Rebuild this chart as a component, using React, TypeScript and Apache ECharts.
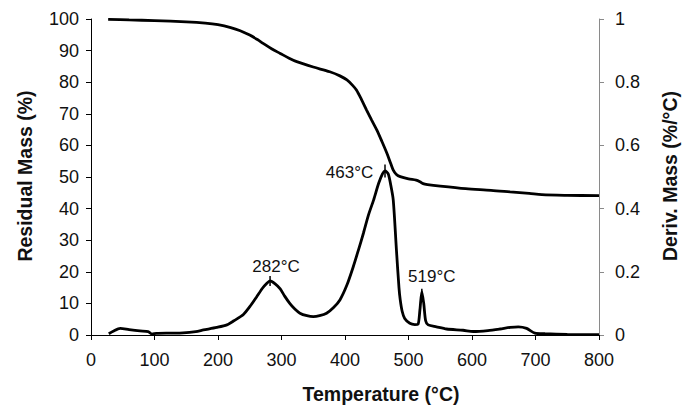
import React, { useEffect, useRef } from "react";
import * as echarts from "echarts";

const tempTGA = [27, 60, 100, 150, 180, 200, 220, 235, 250, 262, 271, 285, 298, 312, 324, 350, 376, 392, 403, 412, 418, 426, 434, 442, 450, 458, 466, 472, 476, 481, 487, 500, 512, 518, 523, 530, 550, 590, 630, 660, 690, 710, 750, 800];
const massTGA = [99.9, 99.7, 99.5, 99.1, 98.7, 98.2, 97.3, 96.3, 94.9, 93.5, 92.3, 90.5, 89.1, 87.6, 86.5, 84.8, 83.3, 82.0, 80.7, 79.0, 77.5, 74.5, 71.2, 68.0, 64.9, 61.3, 57.5, 54.3, 52.2, 50.8, 50.1, 49.4, 49.0, 48.5, 47.9, 47.6, 47.1, 46.3, 45.8, 45.3, 44.8, 44.4, 44.2, 44.1];

const tempDTG = [28, 35, 46, 60, 77, 90, 96, 103, 125, 145, 165, 177, 198, 214, 225, 240, 252, 261, 270, 277, 282, 290, 298, 305, 313, 321, 329, 340, 350, 360, 371, 382, 392, 403, 413, 421, 429, 437, 445, 453, 459, 463, 468, 472, 476, 481, 485, 487, 490, 494, 502, 510, 515, 518, 521, 524, 527, 531, 544, 560, 586, 602, 625, 644, 660, 673, 686, 699, 715, 750, 800];
const derivDTG = [0.004, 0.012, 0.021, 0.017, 0.013, 0.011, 0.003, 0.005, 0.006, 0.007, 0.011, 0.016, 0.024, 0.032, 0.045, 0.065, 0.095, 0.121, 0.148, 0.164, 0.171, 0.162, 0.146, 0.123, 0.1, 0.082, 0.069, 0.061, 0.058, 0.061, 0.069, 0.087, 0.111, 0.158, 0.216, 0.268, 0.322, 0.38, 0.427, 0.48, 0.51, 0.519, 0.51, 0.475, 0.427, 0.269, 0.15, 0.111, 0.075, 0.052, 0.037, 0.033, 0.034, 0.08, 0.137, 0.1, 0.045, 0.032, 0.026, 0.019, 0.015, 0.011, 0.014, 0.019, 0.024, 0.026, 0.021, 0.006, 0.004, 0.002, 0.001];

const peakTemps = [282, 463, 521];
const peakDerivs = [0.171, 0.519, 0.137];
const peakLabels = ["282°C", "463°C", "519°C"];

const xTitle = "Temperature (°C)";
const yLeftTitle = "Residual Mass (%)";
const yRightTitle = "Deriv. Mass (%/°C)";

const FONT = "'Liberation Sans', Arial, Helvetica, sans-serif";

export default function App() {
  const ref = useRef<HTMLDivElement>(null);
  useEffect(() => {
    document.body.style.margin = "0";
    const chart = echarts.init(ref.current!, null, { renderer: "svg" });
    const tga = tempTGA.map((t, i) => [t, massTGA[i]]);
    const dtg = tempDTG.map((t, i) => [t, derivDTG[i]]);
    const labelCfg = [
      { position: "top", distance: 1, offset: [6, 0] },
      { position: "left", distance: 11, offset: [0, 2] },
      { position: "top", distance: 4, offset: [10, 0] },
    ];
    const tickSizes = [[1.5, 10], [1.5, 13], [1.5, 6]];
    const markData = peakTemps.map((t, i) => ({
      coord: [t, peakDerivs[i]],
      symbol: "rect",
      symbolSize: tickSizes[i],
      itemStyle: { color: "#000" },
      label: {
        show: true,
        formatter: peakLabels[i],
        color: "#111",
        fontSize: 17,
        fontFamily: FONT,
        ...labelCfg[i],
      },
    }));
    const axisLabel = { color: "#111", fontSize: 18, fontFamily: FONT };
    chart.setOption({
      animation: false,
      backgroundColor: "#fff",
      grid: { left: 91, top: 19, width: 508, height: 316, containLabel: false },
      xAxis: {
        type: "value",
        min: 0,
        max: 800,
        interval: 100,
        axisLine: { show: true, onZero: false, lineStyle: { color: "#000", width: 1 } },
        axisTick: { show: true, inside: false, length: 5, lineStyle: { color: "#000" } },
        axisLabel: { ...axisLabel, margin: 16 },
        splitLine: { show: false },
      },
      yAxis: [
        {
          type: "value",
          min: 0,
          max: 100,
          interval: 10,
          position: "left",
          axisLine: { show: true, lineStyle: { color: "#000", width: 1 } },
          axisTick: { show: true, inside: false, length: 5, lineStyle: { color: "#000" } },
          axisLabel: { ...axisLabel, margin: 12 },
          splitLine: { show: false },
        },
        {
          type: "value",
          min: 0,
          max: 1,
          interval: 0.2,
          position: "right",
          axisLine: { show: true, lineStyle: { color: "#8a8a8a", width: 1 } },
          axisTick: { show: true, inside: false, length: 5, lineStyle: { color: "#8a8a8a" } },
          axisLabel: { ...axisLabel, margin: 16 },
          splitLine: { show: false },
        },
      ],
      series: [
        {
          type: "line",
          yAxisIndex: 0,
          data: tga,
          smooth: 0.3,
          showSymbol: false,
          lineStyle: { color: "#000", width: 2.8 },
        },
        {
          type: "line",
          yAxisIndex: 1,
          data: dtg,
          smooth: 0.25,
          showSymbol: false,
          lineStyle: { color: "#000", width: 2.8 },
          markPoint: { silent: true, data: markData },
        },
      ],
      graphic: [
        {
          type: "text",
          x: 381,
          y: 394,
          style: { text: xTitle, font: `bold 19.5px ${FONT}`, fill: "#111", align: "center", verticalAlign: "middle" },
        },
        {
          type: "text",
          x: 25,
          y: 176,
          rotation: Math.PI / 2,
          style: { text: yLeftTitle, font: `bold 19.5px ${FONT}`, fill: "#111", align: "center", verticalAlign: "middle" },
        },
        {
          type: "text",
          x: 670,
          y: 176,
          rotation: Math.PI / 2,
          style: { text: yRightTitle, font: `bold 19.5px ${FONT}`, fill: "#111", align: "center", verticalAlign: "middle" },
        },
      ],
    });
    return () => chart.dispose();
  }, []);
  return <div ref={ref} style={{ width: 686, height: 408 }} />;
}
